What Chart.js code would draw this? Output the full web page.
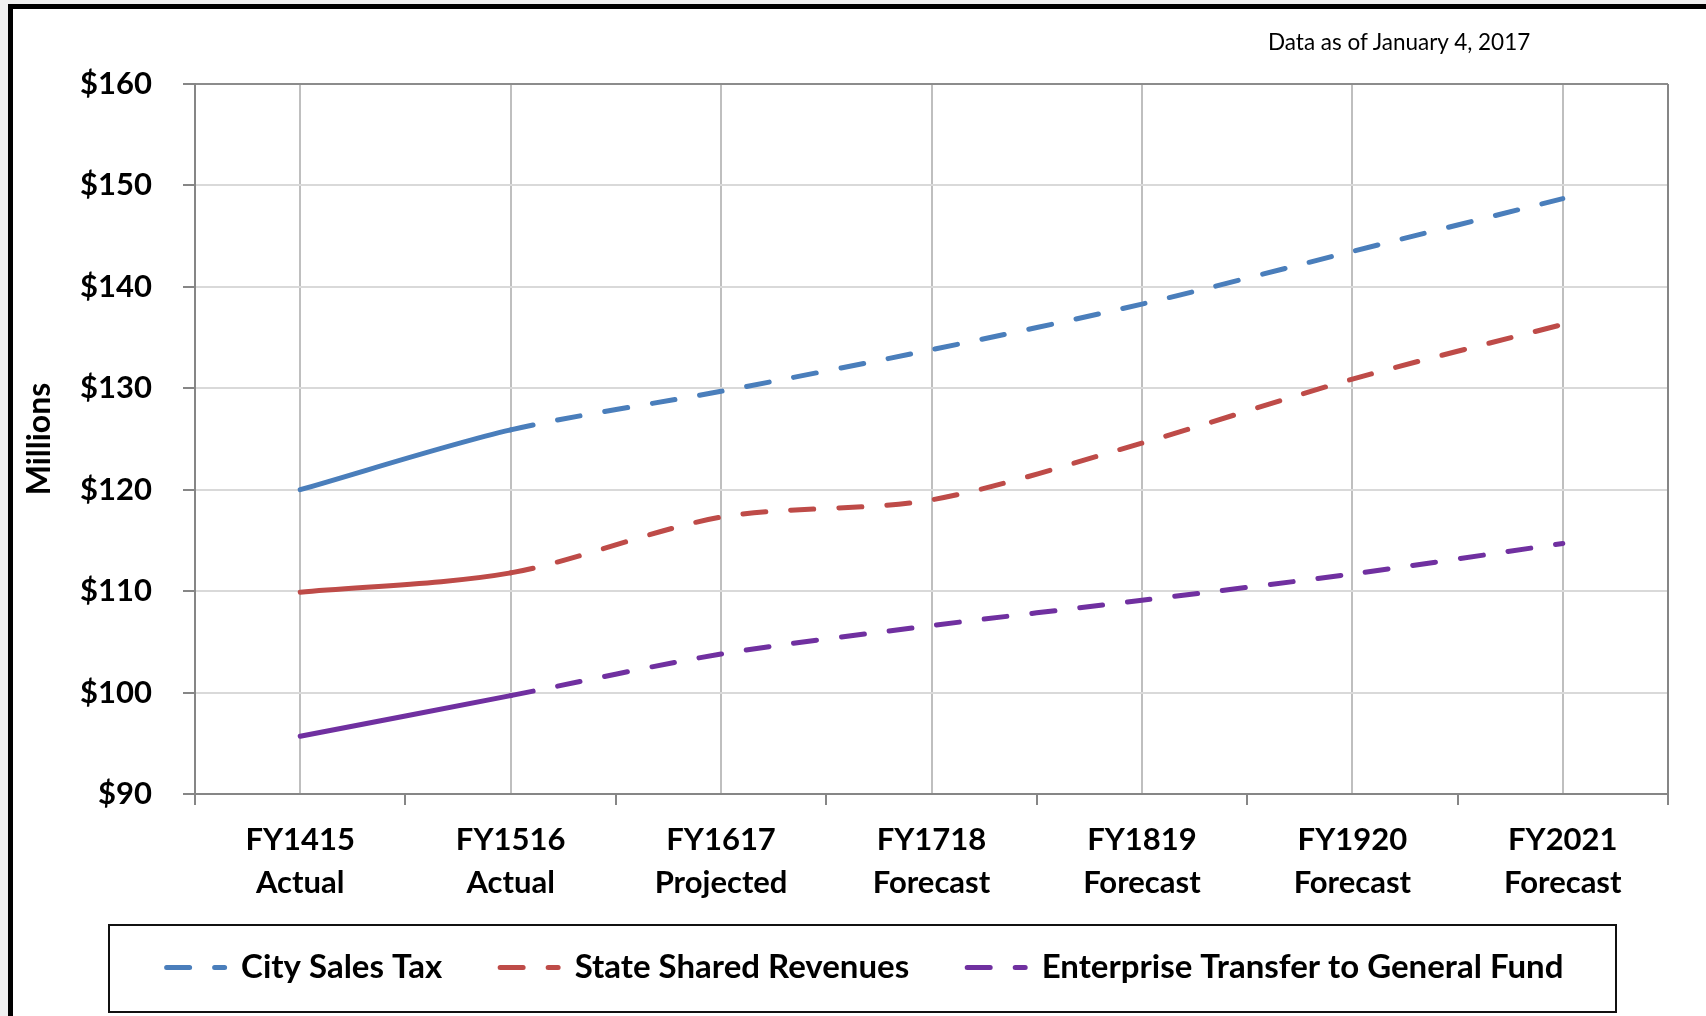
<!DOCTYPE html>
<html>
<head>
<meta charset="utf-8">
<script src="https://cdn.jsdelivr.net/npm/chart.js@4.4.1/dist/chart.umd.min.js"></script>
<style>
  html, body { margin: 0; padding: 0; background: #f0f0f0; overflow: hidden; }
  .frame { position: absolute; left: 8px; top: 4px; width: 1720px; height: 1040px; border: 5px solid #000; background: #fff; }
  #wrap { position: absolute; left: 0; top: 0; width: 1706px; height: 1016px; }
  .asof { position: absolute; left: 1268px; top: 28px; font: 22.5px Lato, sans-serif; color: #000; }
</style>
</head>
<body>
<div class="frame"></div>
<div id="wrap"><canvas id="chart"></canvas></div>
<div class="asof">Data as of January 4, 2017</div>
<script>
// fiscal years, two-line labels
const categories = [
    ["FY1415", "Actual"],
    ["FY1516", "Actual"],
    ["FY1617", "Projected"],
    ["FY1718", "Forecast"],
    ["FY1819", "Forecast"],
    ["FY1920", "Forecast"],
    ["FY2021", "Forecast"]
];

// $ millions
const citySalesTax = [120.0, 125.9, 129.7, 133.8, 138.3, 143.5, 148.7];
const stateShared = [109.9, 111.8, 117.3, 119.0, 124.6, 130.9, 136.3];
const enterpriseTransfer = [95.7, 99.7, 103.8, 106.6, 109.1, 111.7, 114.7];

const yTicks = [90, 100, 110, 120, 130, 140, 150, 160];

const DASH = [23, 25];

Chart.defaults.font.family = "Lato, 'Open Sans', sans-serif";

function series(label, data, color) {
    return {
        label: label,
        data: data,
        borderColor: color,
        backgroundColor: color,
        borderWidth: 5,
        borderCapStyle: "round",
        pointRadius: 0,
        tension: 0.3,
        fill: false,
        // actuals solid, projection/forecast dashed
        segment: {
            borderDash: ctx => ctx.p0DataIndex >= 1 ? DASH : undefined
        }
    };
}

// plot frame, boundary tick marks, legend box
const framePlugin = {
    id: "frame",
    afterLayout(chart) {
        // nudge legend row into the boxed area
        chart.legend.left += 42;
        chart.legend.top -= 16;
    },
    afterDraw(chart) {
        const { ctx, chartArea: a } = chart;
        const n = categories.length;
        const step = (a.right - a.left) / n;
        ctx.save();
        ctx.strokeStyle = "#868686";
        ctx.lineWidth = 2;
        ctx.beginPath();
        ctx.moveTo(a.right, a.top);
        ctx.lineTo(a.right, a.bottom + 11);
        for (let i = 0; i < n; i++) {
            const x = Math.round(a.left + i * step);
            ctx.moveTo(x, a.bottom);
            ctx.lineTo(x, a.bottom + 11);
        }
        ctx.stroke();
        ctx.strokeStyle = "#111";
        ctx.strokeRect(109, 925, 1507, 87);
        ctx.restore();
    }
};

new Chart(document.getElementById("chart"), {
    type: "line",
    data: {
        labels: categories,
        datasets: [
            series("City Sales Tax", citySalesTax, "#4a7ebb"),
            series("State Shared Revenues", stateShared, "#be4b48"),
            series("Enterprise Transfer to General Fund", enterpriseTransfer, "#7030a0")
        ]
    },
    options: {
        responsive: true,
        maintainAspectRatio: false,
        animation: false,
        layout: { padding: { left: 20, top: 84, right: 38, bottom: 6 } },
        scales: {
            x: {
                offset: true,
                grid: { offset: false, color: "#bfbfbf", lineWidth: 2, drawTicks: false },
                border: { color: "#868686", width: 2 },
                ticks: {
                    color: "#000",
                    padding: 24,
                    maxRotation: 0,
                    autoSkip: false,
                    font: { size: 31, weight: "bold", lineHeight: 1.4 }
                },
                afterFit: s => { s.height = 115; }
            },
            y: {
                min: 90,
                max: 160,
                afterBuildTicks: s => { s.ticks = yTicks.map(v => ({ value: v })); },
                grid: {
                    color: c => c.tick && c.tick.value === 160 ? "#8c8c8c" : "#d9d9d9",
                    lineWidth: 2,
                    tickLength: 12,
                    tickColor: "#868686"
                },
                border: { color: "#868686", width: 2 },
                ticks: {
                    color: "#000",
                    padding: 31,
                    font: { size: 31, weight: "bold" },
                    callback: v => "$" + v
                },
                title: {
                    display: true,
                    text: "Millions",
                    color: "#000",
                    padding: { top: 0, bottom: 0 },
                    font: { size: 32, weight: "bold", lineHeight: 1.2 }
                },
                afterFit: s => { s.width = 175; }
            }
        },
        plugins: {
            tooltip: { enabled: false },
            legend: {
                position: "bottom",
                labels: {
                    color: "#000",
                    padding: 58,
                    usePointStyle: true,
                    pointStyle: "line",
                    pointStyleWidth: 58,
                    font: { size: 33, weight: "bold" },
                    generateLabels: chart => {
                        const items = Chart.defaults.plugins.legend.labels.generateLabels(chart);
                        items.forEach(it => {
                            it.lineDash = DASH;
                            it.lineWidth = 5;
                            it.lineCap = "round";
                            it.pointStyle = "line";
                        });
                        return items;
                    }
                }
            }
        }
    },
    plugins: [framePlugin]
});
</script>
</body>
</html>
